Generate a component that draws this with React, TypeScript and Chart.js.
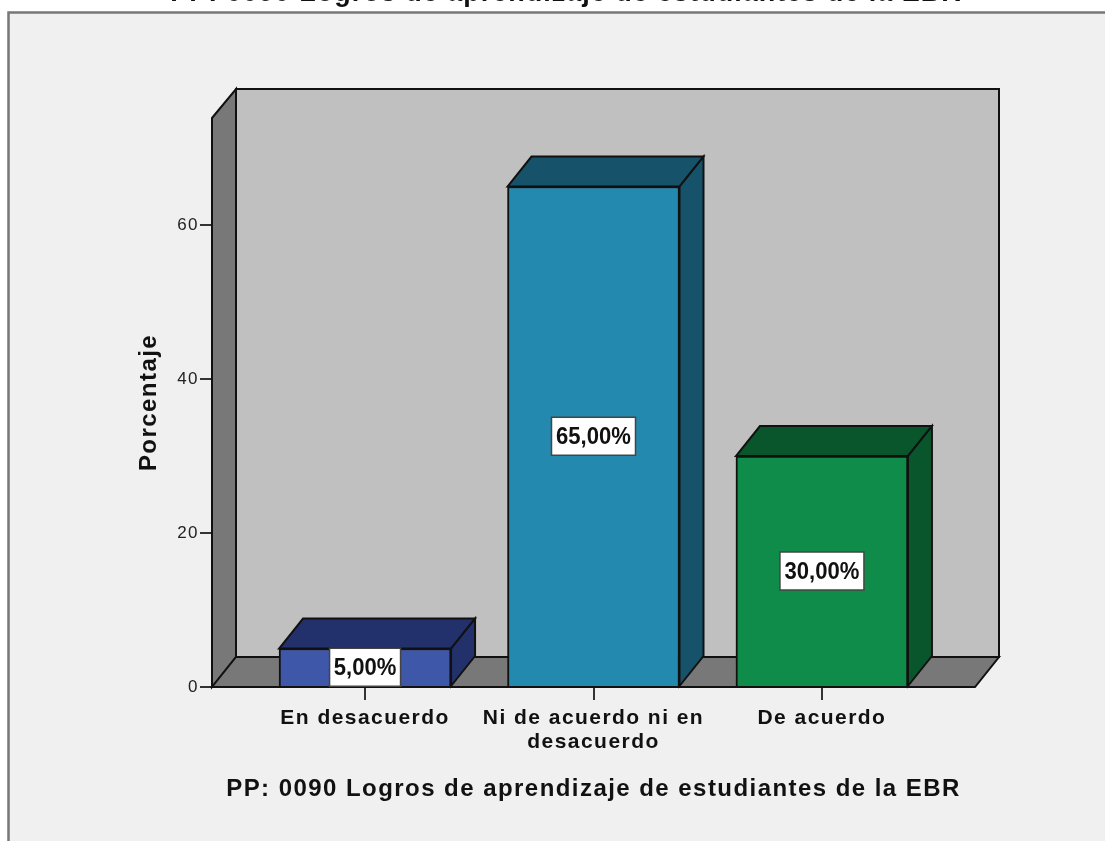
import React, { useEffect, useRef } from "react";
import { Chart, registerables } from "chart.js";

Chart.register(...registerables);

const categories = [["En desacuerdo"], ["Ni de acuerdo ni en", "desacuerdo"], ["De acuerdo"]];
const positions = [0, 1, 2];
const values = [5, 65, 30];
const valueLabels = ["5,00%", "65,00%", "30,00%"];
const yTicks = [0, 20, 40, 60];
const frontColors = ["#3F57A9", "#2389AE", "#0F8C49"];
const sideColors = ["#22316B", "#16536B", "#09562C"];
const axisTitleX = "PP: 0090 Logros de aprendizaje de estudiantes de la EBR";
const axisTitleY = "Porcentaje";
const clippedTitle = "PP: 0090 Logros de aprendizaje de estudiantes de la EBR";

const DX = 24;
const DY = -30;
const LINE = "#111111";

function poly(ctx: CanvasRenderingContext2D, pts: number[][], fill: string) {
  ctx.beginPath();
  pts.forEach((p, i) => (i ? ctx.lineTo(p[0], p[1]) : ctx.moveTo(p[0], p[1])));
  ctx.closePath();
  ctx.fillStyle = fill;
  ctx.fill();
  ctx.lineWidth = 2;
  ctx.strokeStyle = LINE;
  ctx.lineJoin = "miter";
  ctx.stroke();
}

const scene = {
  id: "scene",
  beforeDraw(chart: any) {
    const ctx = chart.ctx;
    ctx.save();
    ctx.fillStyle = "#ffffff";
    ctx.fillRect(0, 0, chart.width, chart.height);
    ctx.fillStyle = "#F0F0F0";
    ctx.fillRect(8, 12, chart.width, chart.height);
    ctx.strokeStyle = "#777777";
    ctx.lineWidth = 2.5;
    ctx.beginPath();
    ctx.moveTo(8.5, chart.height);
    ctx.lineTo(8.5, 12.5);
    ctx.lineTo(chart.width, 12.5);
    ctx.stroke();
    ctx.font = "bold 27px 'Liberation Sans'";
    (ctx as any).letterSpacing = "1px";
    ctx.fillStyle = "#111111";
    ctx.textAlign = "center";
    ctx.textBaseline = "alphabetic";
    ctx.fillText(clippedTitle, 566, 1);
    ctx.restore();
    (ctx as any).letterSpacing = "1.45px";
  },
  beforeDatasetsDraw(chart: any) {
    const ctx = chart.ctx;
    const { left: l, right: r, top: t, bottom: b } = chart.chartArea;
    ctx.save();
    poly(ctx, [[l + DX, t + DY + 1], [r + DX, t + DY + 1], [r + DX, b + DY], [l + DX, b + DY]], "#C0C0C0");
    poly(ctx, [[l, t], [l + DX, t + DY + 1], [l + DX, b + DY], [l, b]], "#787878");
    poly(ctx, [[l, b], [l + DX, b + DY], [r + DX, b + DY], [r, b]], "#787878");
    chart.getDatasetMeta(0).data.forEach((bar: any, i: number) => {
      const x0 = bar.x - bar.width / 2;
      const x1 = bar.x + bar.width / 2;
      poly(ctx, [[x0, bar.y], [x0 + DX, bar.y + DY], [x1 + DX, bar.y + DY], [x1, bar.y]], sideColors[i]);
      poly(ctx, [[x1, bar.y], [x1 + DX, bar.y + DY], [x1 + DX, bar.base + DY], [x1, bar.base]], sideColors[i]);
    });
    ctx.restore();
  },
  afterDatasetsDraw(chart: any) {
    const ctx = chart.ctx;
    ctx.save();
    (ctx as any).letterSpacing = "0px";
    ctx.font = "bold 24px 'Liberation Sans'";
    ctx.textAlign = "center";
    ctx.textBaseline = "middle";
    chart.getDatasetMeta(0).data.forEach((bar: any, i: number) => {
      const cy = (bar.y + bar.base) / 2;
      const w = valueLabels[i].length === 5 ? 71 : 84;
      ctx.fillStyle = "#ffffff";
      ctx.fillRect(bar.x - w / 2, cy - 19, w, 38);
      ctx.strokeStyle = "#444444";
      ctx.lineWidth = 1.5;
      ctx.strokeRect(bar.x - w / 2, cy - 19, w, 38);
      ctx.fillStyle = "#111111";
      ctx.save();
      ctx.translate(bar.x, cy + 1);
      ctx.scale(0.92, 1);
      ctx.fillText(valueLabels[i], 0, 0);
      ctx.restore();
    });
    ctx.restore();
  },
};

export default function App() {
  const ref = useRef<HTMLCanvasElement>(null);
  useEffect(() => {
    const chart = new Chart(ref.current as HTMLCanvasElement, {
      type: "bar",
      data: {
        datasets: [
          {
            data: positions.map((x, i) => ({ x, y: values[i] })),
            backgroundColor: frontColors,
            borderColor: LINE,
            borderWidth: 2,
            barThickness: 172,
          },
        ],
      },
      options: {
        animation: false,
        responsive: false,
        layout: { padding: { left: 135, right: 130, top: 118, bottom: 37 } },
        plugins: { legend: { display: false }, tooltip: { enabled: false } },
        scales: {
          x: {
            type: "linear",
            offset: false,
            min: -0.67,
            max: 2.67,
            afterBuildTicks: (s: any) => {
              s.ticks = positions.map((value) => ({ value }));
            },
            afterFit: (s: any) => {
              s.height = 841 - 687 - 37;
            },
            ticks: {
              autoSkip: false,
              maxRotation: 0,
              padding: 6,
              color: "#111111",
              font: { family: "'Liberation Sans'", weight: "bold", size: 21, lineHeight: 1.15 },
              callback: (v: any) => categories[v] ?? "",
            },
            grid: { offset: false, drawOnChartArea: false, drawTicks: true, tickLength: 13, color: "#333333", lineWidth: 2 },
            border: { display: false },
            title: {
              display: true,
              text: axisTitleX,
              color: "#111111",
              padding: 0,
              font: { family: "'Liberation Sans'", weight: "bold", size: 24 },
            },
          },
          y: {
            min: 0,
            max: 73.9,
            afterBuildTicks: (s: any) => {
              s.ticks = yTicks.map((value) => ({ value }));
            },
            afterFit: (s: any) => {
              s.width = 77;
            },
            ticks: {
              padding: 1,
              color: "#222222",
              font: { family: "'Liberation Sans'", size: 17 },
            },
            grid: { drawOnChartArea: false, drawTicks: true, tickLength: 12, color: "#333333", lineWidth: 2 },
            border: { display: false },
            title: {
              display: true,
              text: axisTitleY,
              color: "#111111",
              padding: 0,
              font: { family: "'Liberation Sans'", weight: "bold", size: 24 },
            },
          },
        },
      },
      plugins: [scene],
    } as any);
    return () => chart.destroy();
  }, []);
  return (
    <canvas
      ref={ref}
      width={1105}
      height={841}
      style={{ position: "fixed", left: 0, top: 0, width: 1105, height: 841, display: "block" }}
    />
  );
}
